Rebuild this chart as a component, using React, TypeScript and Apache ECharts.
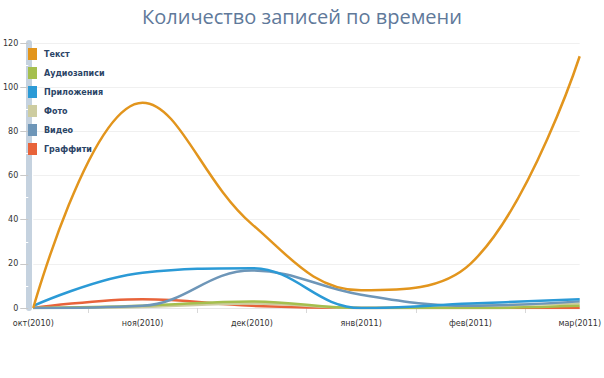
import React, { useEffect, useRef } from "react";
import * as echarts from "echarts";

const categories = ["окт(2010)", "ноя(2010)", "дек(2010)", "янв(2011)", "фев(2011)", "мар(2011)"];
const seriesNames = ["Текст", "Аудиозаписи", "Приложения", "Фото", "Видео", "Граффити"];
const textData = [0, 93, 38, 8, 20, 114];
const audioData = [0, 1, 3, 0, 0, 1];
const appsData = [1, 16, 18, 0, 2, 4];
const photoData = [0, 0.5, 2, 0, 1, 2];
const videoData = [0, 1, 17, 6, 1, 3];
const graffitiData = [0, 4, 1, 0, 0, 0];
const colors = ["#e2951d", "#a5bf4e", "#2b9ad6", "#cdcca0", "#6e96b8", "#e8633a"];
const tickCats = ["", "", "", "", "", "", "", "", "", "", ""];

export default function App() {
  const ref = useRef<HTMLDivElement>(null);
  useEffect(() => {
    const chart = echarts.init(ref.current!, undefined, { renderer: "svg" });
    const datasets = [textData, audioData, appsData, photoData, videoData, graffitiData];
    const order = [5, 3, 1, 4, 2, 0];
    const series = order.map((i) => ({
      name: seriesNames[i],
      type: "line",
      smooth: 0.4,
      symbol: "none",
      data: datasets[i],
      z: 2 + (i === 0 ? 5 : 0),
      lineStyle: { width: 2.5, color: colors[i] },
      itemStyle: { color: colors[i] },
    }));
    chart.setOption({
      animation: false,
      backgroundColor: "#ffffff",
      title: {
        text: "Количество записей по времени",
        left: "center",
        top: 1,
        textStyle: { fontFamily: "Open Sans", fontSize: 20, fontWeight: "normal", color: "#60799a" },
      },
      legend: {
        data: seriesNames,
        orient: "vertical",
        left: 23,
        top: 43,
        itemWidth: 9,
        itemHeight: 12,
        itemGap: 7,
        icon: "rect",
        textStyle: { fontFamily: "DejaVu Sans", fontSize: 8, fontWeight: "bold", color: "#2b4466", padding: [0, 0, 0, 2] },
      },
      grid: { left: 30, right: 19, top: 43, bottom: 70, containLabel: false },
      xAxis: [
        {
          type: "category",
          data: categories,
          boundaryGap: false,
          axisLine: { show: true, lineStyle: { color: "#e6e6e6", width: 1 } },
          axisTick: { show: false },
          axisLabel: { fontFamily: "DejaVu Sans", fontSize: 8, color: "#333", margin: 11 },
          splitLine: { show: false },
        },
        {
          type: "category",
          data: tickCats,
          boundaryGap: false,
          position: "bottom",
          axisLine: { show: false },
          axisLabel: { show: false },
          axisTick: {
            show: true,
            length: 5,
            interval: (index: number) => index % 2 === 1,
            lineStyle: { color: "#d8d8d8" },
          },
          splitLine: { show: false },
        },
      ],
      yAxis: {
        type: "value",
        min: 0,
        max: 120,
        interval: 20,
        offset: 5,
        axisLine: { show: true, lineStyle: { color: "#c5d2df", width: 6 } },
        axisTick: { show: true, length: 8, lineStyle: { color: "#c8c8c8" } },
        minorTick: { show: true, splitNumber: 2, length: 3, lineStyle: { color: "#ffffff", width: 1 } },
        axisLabel: { fontFamily: "DejaVu Sans", fontSize: 8, color: "#333", margin: 10 },
        splitLine: { show: true, lineStyle: { color: "#f0f0f0" } },
      },
      series,
    });
    return () => chart.dispose();
  }, []);
  return <div ref={ref} style={{ position: "fixed", left: 0, top: 0, width: 604, height: 378 }} />;
}
